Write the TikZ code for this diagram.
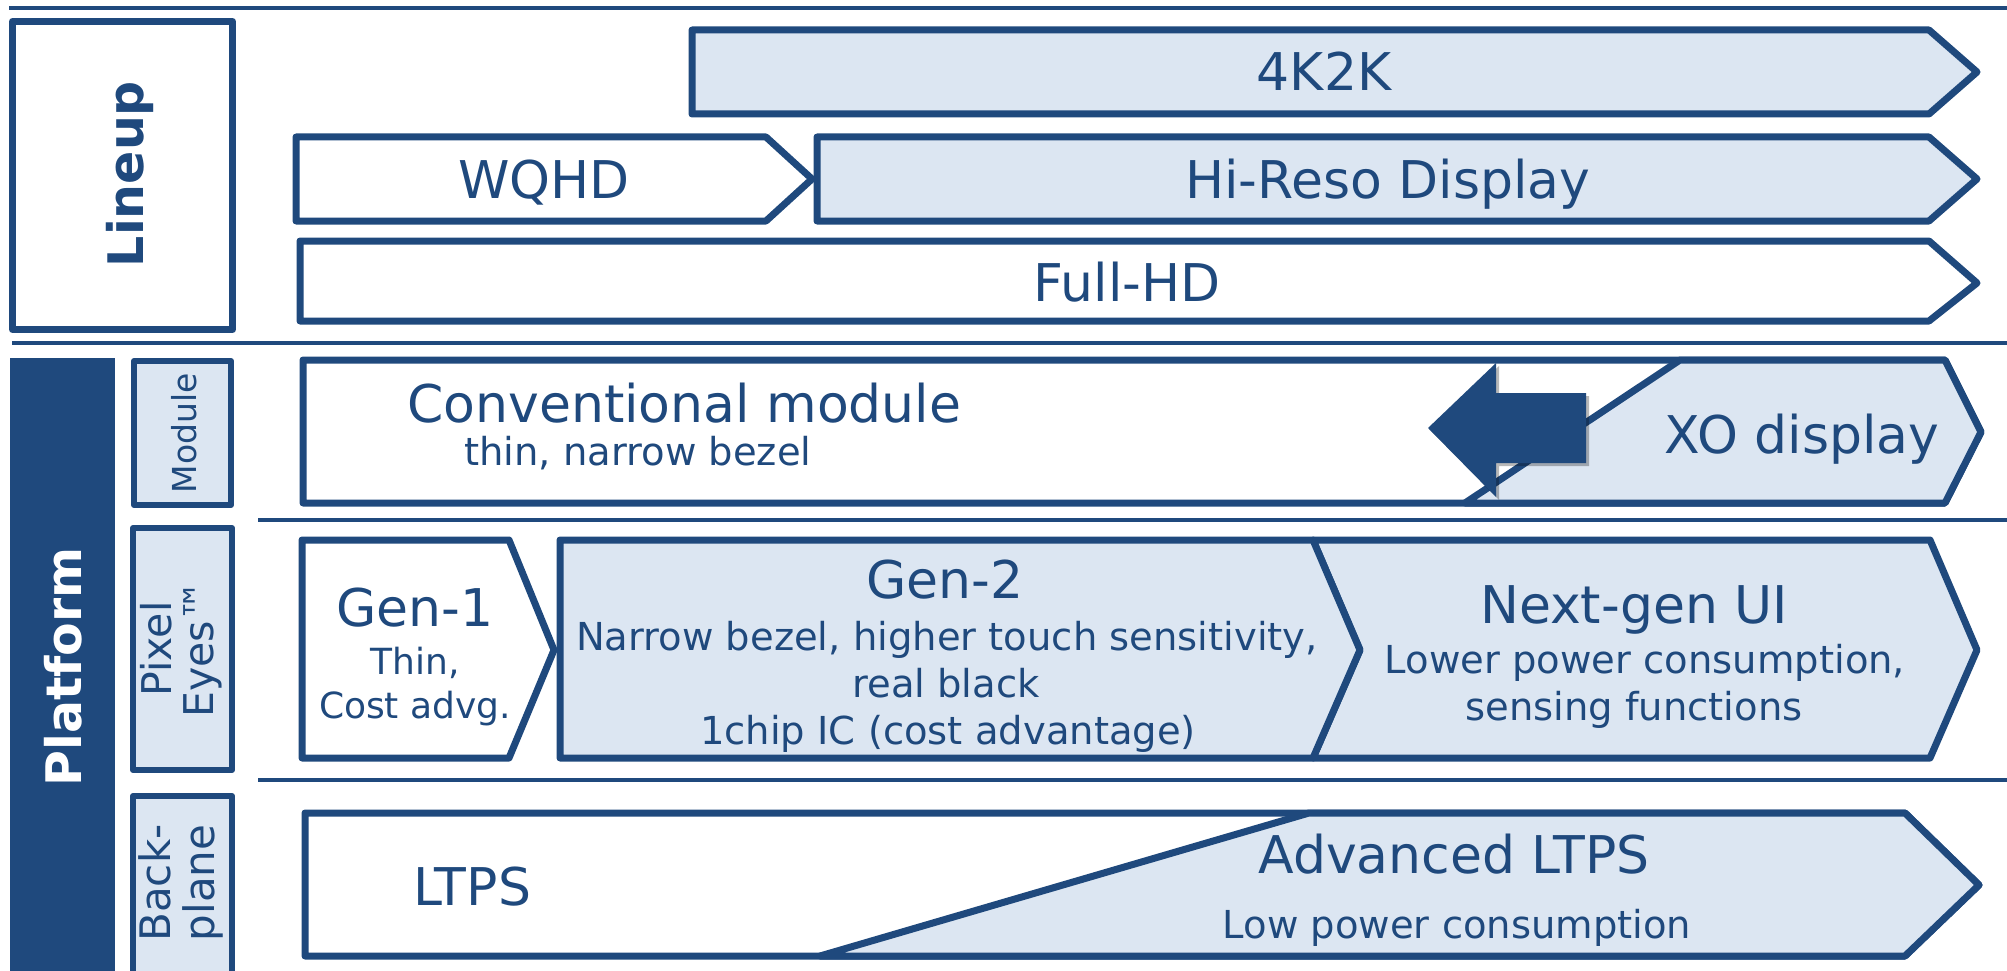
\documentclass[tikz,border=0pt]{standalone}
\usepackage{fontspec}
\setmainfont{DejaVu Sans}
\definecolor{navy}{HTML}{1F497D}
\definecolor{pale}{HTML}{DCE6F2}
\begin{document}
\begin{tikzpicture}[x=1pt, y=-1pt, line join=round,
  box/.style={draw=navy, line width=7pt},
  light/.style={box, fill=pale},
  plain/.style={box, fill=white},
  sidebox/.style={draw=navy, line width=6pt, fill=pale},
  rule/.style={draw=navy, line width=4.5pt},
  title/.style={text=navy, font=\fontsize{52}{57}\selectfont, inner sep=0pt, anchor=base},
  sub/.style={text=navy, font=\fontsize{38.5}{46}\selectfont, inner sep=0pt, anchor=base},
  smallsub/.style={text=navy, font=\fontsize{36}{42}\selectfont, inner sep=0pt, anchor=base},
  side/.style={text=navy, inner sep=0pt, rotate=90, align=center},
  ]
\useasboundingbox (0,0) rectangle (2007,971);

% horizontal rules between the bands
\draw[rule] (9,8) -- (2007,8);
\draw[rule] (12,343) -- (2007,343);
\draw[rule] (258,520) -- (2007,520);
\draw[rule] (258,780) -- (2007,780);

% ---------------- Lineup band ----------------
\draw[plain] (12.5,21.5) rectangle (232.5,329.5);
\node[side, font=\bfseries\fontsize{49}{54}\selectfont] (lineup) at (130,174) {Lineup};

\draw[light] (692,30) -- (1929,30) -- (1977,72) -- (1929,114) -- (692,114) -- cycle;
\node[title] (k4) at (1324,91) {4K2K};

\draw[plain] (296,137) -- (766,137) -- (812,179) -- (766,221) -- (296,221) -- cycle;
\node[title] (wqhd) at (544,198) {WQHD};

\draw[light] (817,137) -- (1929,137) -- (1977,179) -- (1929,221) -- (817,221) -- cycle;
\node[title] (hireso) at (1388,198) {Hi-Reso Display};

\draw[plain] (300,241) -- (1929,241) -- (1977,283) -- (1929,321) -- (300,321) -- cycle;
\node[title] (fullhd) at (1127,301) {Full-HD};

% ---------------- Platform band ----------------
\fill[navy] (10,358) rectangle (115,990);
\node[side, text=white, font=\bfseries\fontsize{49}{54}\selectfont] (platform) at (63,667) {Platform};

\draw[sidebox] (134,361) rectangle (231,505);
\node[side, font=\fontsize{33}{38}\selectfont] (module) at (184,433) {Module};

\draw[sidebox] (133,528) rectangle (232,770);
\node[side, font=\fontsize{41}{42}\selectfont] (pixeleyes) at (181,649) {Pixel\\Eyes™};

\draw[sidebox] (133,796) rectangle (232,990);
\node[side, font=\fontsize{42}{44}\selectfont] (backplane) at (181,883) {Back-\\plane};

% module row
\draw[plain] (303,360) -- (1945,360) -- (1981,432) -- (1945,503) -- (303,503) -- cycle;
\draw[light] (1680,360) -- (1945,360) -- (1981,432) -- (1945,503) -- (1465,503) -- cycle;
\node[title, anchor=base west] (conv) at (407,422) {Conventional module};
\node[sub, anchor=base west] (convsub) at (464,465) {thin, narrow bezel};
\node[title] (xo) at (1802,453) {XO display};

% shifting arrow with its shadow
\fill[black, opacity=0.28] (1431,431) -- (1499,366) -- (1499,396) -- (1589,396) -- (1589,466) -- (1499,466) -- (1499,500) -- cycle;
\fill[navy] (1428,428) -- (1496,363) -- (1496,393) -- (1586,393) -- (1586,463) -- (1496,463) -- (1496,497) -- cycle;

% Pixel Eyes row
\draw[light] (1313,540) -- (1930,540) -- (1977,650) -- (1930,758) -- (1313,758) -- (1360,650) -- cycle;
\draw[light] (560,540) -- (1313,540) -- (1360,650) -- (1313,758) -- (560,758) -- cycle;
\draw[plain] (302,540) -- (509,540) -- (554,650) -- (509,758) -- (302,758) -- cycle;

\node[title] (gen1) at (415,626) {Gen-1};
\node[smallsub] (gen1a) at (415,674) {Thin,};
\node[smallsub] (gen1b) at (415,718) {Cost advg.};

\node[title] (gen2) at (945,598) {Gen-2};
\node[sub] (gen2a) at (947,650) {Narrow bezel, higher touch sensitivity,};
\node[sub] (gen2b) at (946,697) {real black};
\node[sub] (gen2c) at (948,744) {1chip IC (cost advantage)};

\node[title] (nextgen) at (1634,623) {Next-gen UI};
\node[sub] (nexta) at (1645,673) {Lower power consumption,};
\node[sub] (nextb) at (1634,720) {sensing functions};

% Backplane row
\draw[plain] (305,813) -- (1905,813) -- (1979,885) -- (1905,956) -- (305,956) -- cycle;
\draw[light] (1309,813) -- (1905,813) -- (1979,885) -- (1905,956) -- (820,956) -- cycle;
\node[title] (ltps) at (472,905) {LTPS};
\node[title] (adv) at (1454,873) {Advanced LTPS};
\node[sub] (advsub) at (1457,938) {Low power consumption};
\end{tikzpicture}
\end{document}
